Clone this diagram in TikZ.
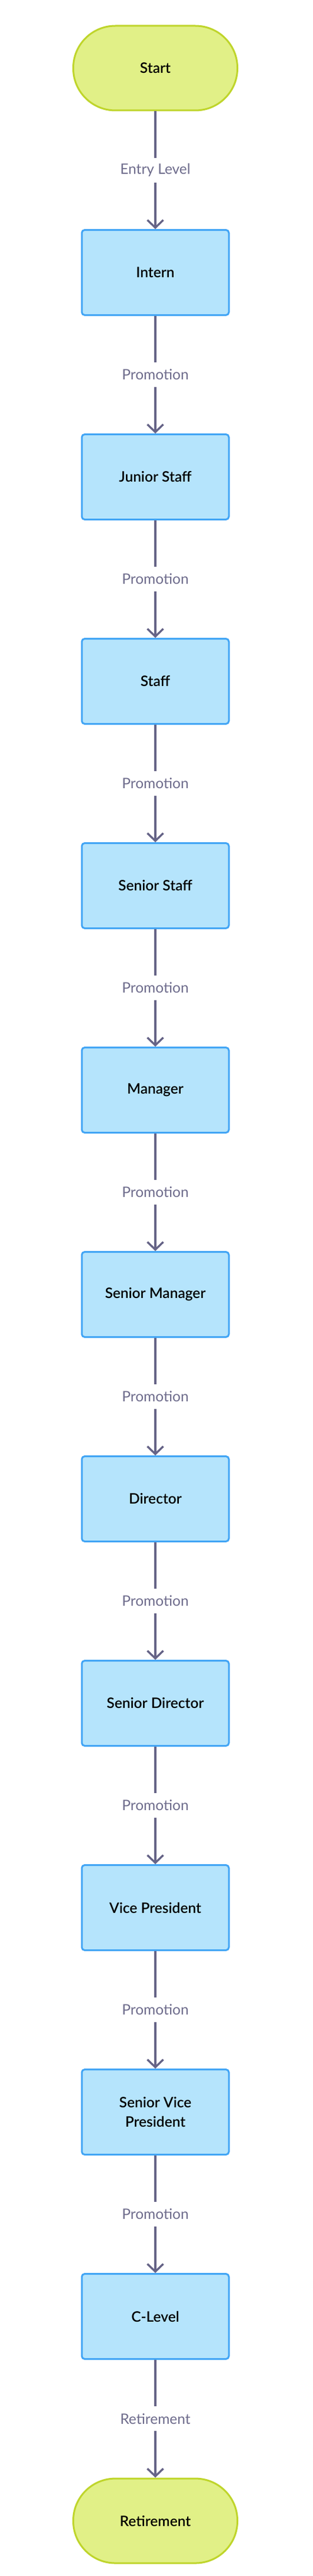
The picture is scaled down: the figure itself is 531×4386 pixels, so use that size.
\documentclass[tikz,border=0pt]{standalone}
\usepackage{fontspec}
\setmainfont{Lato}[BoldFont={Lato Semibold}]
\usetikzlibrary{arrows.meta}
\definecolor{stfill}{HTML}{E1F087}
\definecolor{stdraw}{HTML}{BFD52B}
\definecolor{boxfill}{HTML}{B5E4FC}
\definecolor{boxdraw}{HTML}{42A5F5}
\definecolor{linec}{HTML}{666487}
\definecolor{lblc}{HTML}{6E6C8C}
\begin{document}
\begin{tikzpicture}[x=1pt,y=1pt,
  box/.style={draw=boxdraw,fill=boxfill,line width=3pt,rounded corners=5pt,
    minimum width=250pt,minimum height=145pt,align=center,inner sep=0pt,
    text=black,font=\fontsize{24.5}{33}\selectfont\bfseries},
  term/.style={draw=stdraw,fill=stfill,line width=3pt,rounded corners=71.5pt,
    minimum width=279pt,minimum height=144pt,align=center,inner sep=0pt,
    text=black,font=\fontsize{24.5}{33}\selectfont\bfseries},
  conn/.style={draw=linec,line width=3.4pt,
    -{Straight Barb[length=13pt,width=27pt]}},
  lbl/.style={fill=white,text=lblc,font=\fontsize{24.5}{29}\selectfont,
    inner xsep=3pt,inner ysep=0pt,minimum height=42pt}
]
\fill[white] (0,0) rectangle (531,-4386);
\useasboundingbox (0,0) rectangle (531,-4386);
\def\cx{264}
\node[term] (n0)  at (\cx,-116)  {Start};
\node[box]  (n1)  at (\cx,-464)  {Intern};
\node[box]  (n2)  at (\cx,-812)  {Junior Staff};
\node[box]  (n3)  at (\cx,-1160) {Staff};
\node[box]  (n4)  at (\cx,-1508) {Senior Staff};
\node[box]  (n5)  at (\cx,-1856) {Manager};
\node[box]  (n6)  at (\cx,-2204) {Senior Manager};
\node[box]  (n7)  at (\cx,-2552) {Director};
\node[box]  (n8)  at (\cx,-2900) {Senior Director};
\node[box]  (n9)  at (\cx,-3248) {Vice President};
\node[box]  (n10) at (\cx,-3596) {Senior Vice\\President};
\node[box]  (n11) at (\cx,-3944) {C-Level};
\node[term] (n12) at (\cx,-4292) {Retirement};
\draw[conn] (n0) -- node[lbl] {Entry Level} (n1);
\draw[conn] (n1) -- node[lbl] {Promotion} (n2);
\draw[conn] (n2) -- node[lbl] {Promotion} (n3);
\draw[conn] (n3) -- node[lbl] {Promotion} (n4);
\draw[conn] (n4) -- node[lbl] {Promotion} (n5);
\draw[conn] (n5) -- node[lbl] {Promotion} (n6);
\draw[conn] (n6) -- node[lbl] {Promotion} (n7);
\draw[conn] (n7) -- node[lbl] {Promotion} (n8);
\draw[conn] (n8) -- node[lbl] {Promotion} (n9);
\draw[conn] (n9) -- node[lbl] {Promotion} (n10);
\draw[conn] (n10) -- node[lbl] {Promotion} (n11);
\draw[conn] (n11) -- node[lbl] {Retirement} (n12);
\end{tikzpicture}
\end{document}
